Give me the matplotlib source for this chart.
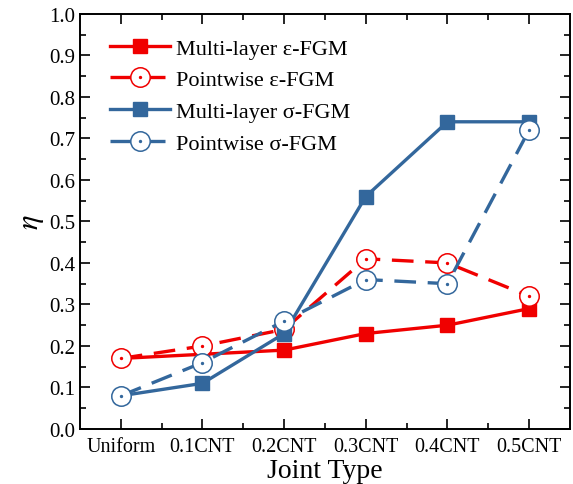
import matplotlib.pyplot as plt
from matplotlib.legend_handler import HandlerTuple
from matplotlib.ticker import MultipleLocator, FixedLocator
import numpy as np

plt.rcParams['font.family'] = ['Liberation Serif', 'DejaVu Serif']
plt.rcParams['mathtext.fontset'] = 'stix'

joint_types = ["Uniform", "0.1CNT", "0.2CNT", "0.3CNT", "0.4CNT", "0.5CNT"]
multi_eps = [0.17, 0.18, 0.19, 0.23, 0.25, 0.29]
point_eps = [0.17, 0.20, 0.24, 0.41, 0.40, 0.32]
multi_sig = [0.08, 0.11, 0.23, 0.56, 0.74, 0.74]
point_sig = [0.08, 0.16, 0.26, 0.36, 0.35, 0.72]

red = "#f00000"
blue = "#33679c"

fig = plt.figure(figsize=(5.73, 4.85), dpi=100)
ax = fig.add_axes([0.1396, 0.1134, 0.855, 0.856])
x = np.arange(len(joint_types))

def solid(vals, color):
    line, = ax.plot(x, vals, color=color, lw=2.4, marker='s', ms=10.5,
                    mec=color, mfc=color)
    return line

def dotted(vals, color):
    # open circle with a small dot in the middle
    line, = ax.plot(x, vals, color=color, lw=2.4, ls=(0, (6.5, 3.5)),
                    marker='o', ms=14, mec=color, mfc='white', mew=1.1)
    dots, = ax.plot(x, vals, ls='none', marker='o', ms=1.4, color=color)
    return (line, dots)

h1 = solid(multi_eps, red)
h2 = dotted(point_eps, red)
h3 = solid(multi_sig, blue)
h4 = dotted(point_sig, blue)

ax.legend([h1, h2, h3, h4],
          ["Multi-layer ε-FGM", "Pointwise ε-FGM", "Multi-layer σ-FGM", "Pointwise σ-FGM"],
          handler_map={tuple: HandlerTuple(ndivide=1, pad=0)},
          loc='upper left', bbox_to_anchor=(0.02, 0.99), frameon=False,
          fontsize=16, handlelength=2.7, labelspacing=0.5, handletextpad=0.3)

ax.set_xlim(-0.5, 5.5)
ax.set_ylim(0, 1.0)
ax.set_xticks(x)
ax.set_xticklabels(joint_types)
ax.xaxis.set_minor_locator(FixedLocator(x[:-1] + 0.5))
ax.yaxis.set_major_locator(MultipleLocator(0.1))
ax.yaxis.set_minor_locator(MultipleLocator(0.05))
ax.tick_params(which='both', direction='in', top=True, right=True, width=1.2)
ax.tick_params(which='major', length=7, labelsize=15)
ax.tick_params(which='minor', length=4)
ax.tick_params(axis='x', labelsize=14.5, pad=6)
for s in ax.spines.values():
    s.set_linewidth(1.4)

ax.set_xlabel("Joint Type", fontsize=20, labelpad=1)
ax.set_ylabel(r"$\eta$", fontsize=22, labelpad=2)

fig.savefig("out.png", dpi=100)
